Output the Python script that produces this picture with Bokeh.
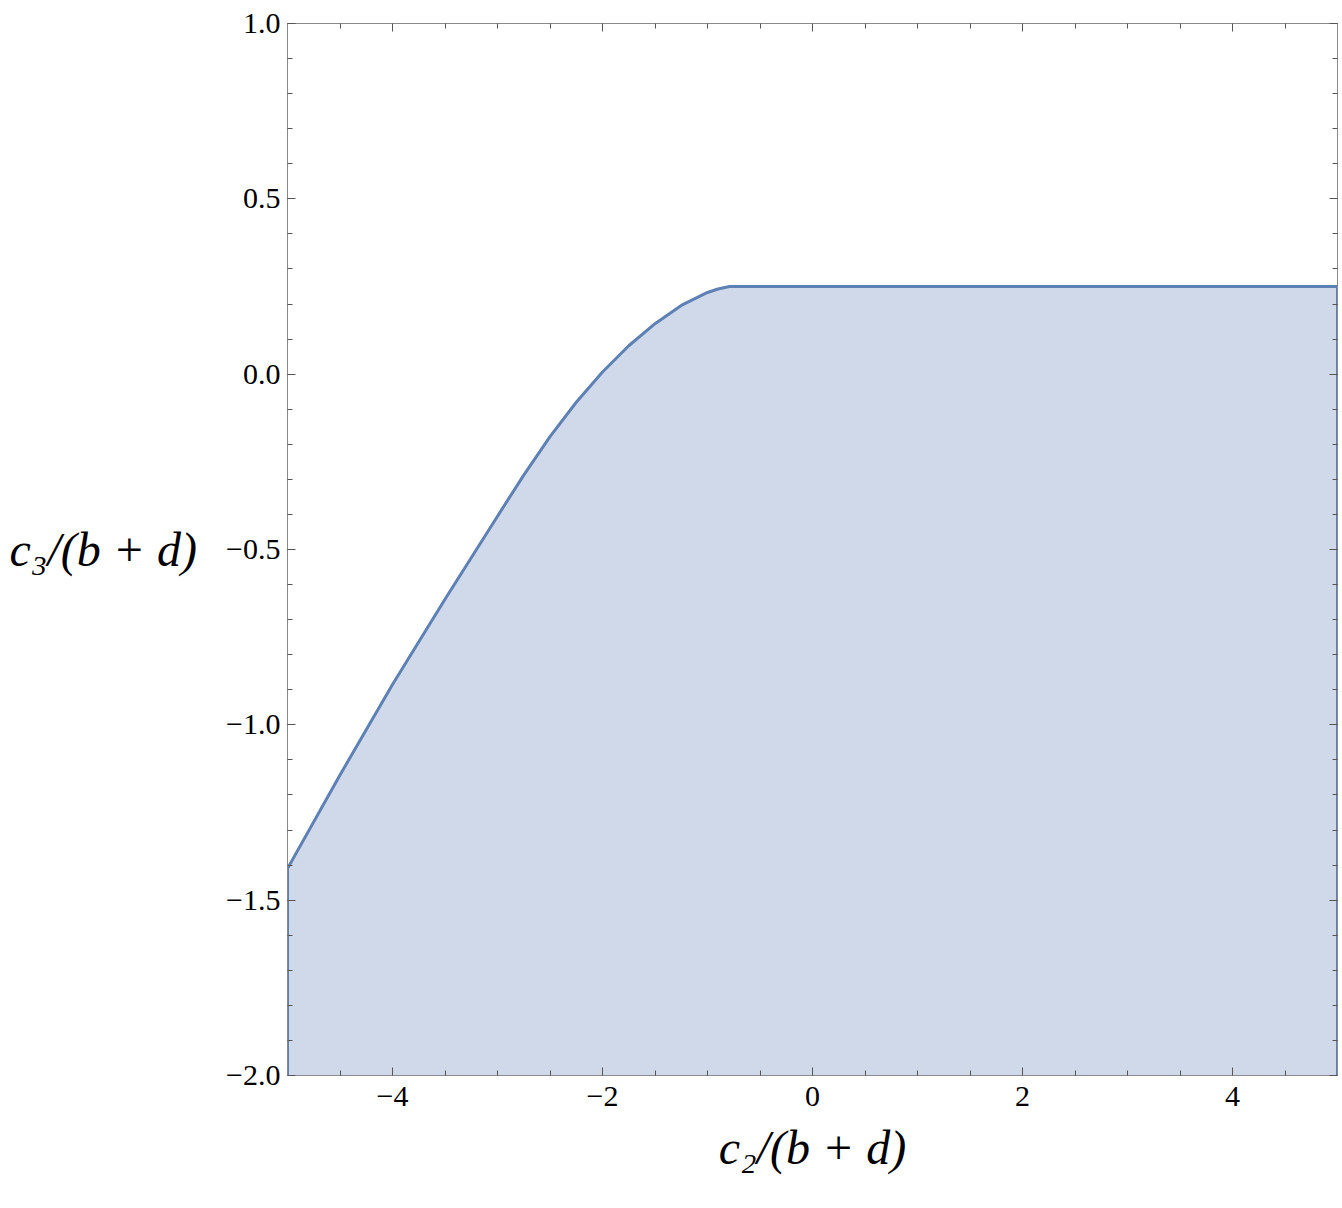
from bokeh.plotting import figure
from bokeh.models import (FixedTicker, LinearAxis, CustomJSTickFormatter, Range1d)
from bokeh.embed import file_html
from bokeh.resources import INLINE

# boundary of the region
c2_vals = [-5.0, -4.5, -4.0, -3.5, -3.0, -2.75, -2.5, -2.25, -2.0, -1.75,
           -1.5, -1.25, -1.0, -0.9, -0.79, 5.0]
c3_vals = [-1.41, -1.143, -0.885, -0.642, -0.405, -0.288, -0.178, -0.08, 0.006, 0.081,
           0.144, 0.196, 0.233, 0.243, 0.25, 0.25]
y_floor = -2.0

x_major = [-4, -2, 0, 2, 4]
x_minor = [-4.5, -3.5, -3.0, -2.5, -1.5, -1.0, -0.5, 0.5, 1.0, 1.5, 2.5, 3.0, 3.5, 4.5]
y_major = [-2.0, -1.5, -1.0, -0.5, 0.0, 0.5, 1.0]
y_minor = [round(-2.0 + 0.1 * i, 1) for i in range(31)]

x_label = "c\u2082/(b + d)"
y_label = "c\u2083/(b + d)"

FONT = "Liberation Serif"
LINE = "#5E81B5"
FILL = "#CFD9E9"
AXIS = "#8a8a8a"
TICK = "#555555"

p = figure(frame_width=1050, frame_height=1052, output_backend="svg",
           toolbar_location=None, x_range=Range1d(-5, 5), y_range=Range1d(-2, 1),
           min_border_left=287, min_border_top=23, min_border_right=2,
           min_border_bottom=110, x_axis_location=None, y_axis_location=None)
p.outline_line_color = None
p.grid.visible = False
p.background_fill_color = "white"
p.border_fill_color = "white"

p.varea(x=c2_vals, y1=[y_floor] * len(c2_vals), y2=c3_vals, fill_color=FILL)
bx = [c2_vals[0]] + c2_vals + [c2_vals[-1]]
by = [y_floor] + c3_vals + [y_floor]
p.line(bx, by, line_color=LINE, line_width=3, line_join="round")

fmt_x = CustomJSTickFormatter(code="""
    if (Math.abs(tick) < 1e-9) return '0';
    return (tick < 0 ? '\u2212' : '') + Math.abs(tick).toFixed(0);
""")
fmt_y = CustomJSTickFormatter(code="""
    if (Math.abs(tick) < 1e-9) return '0.0';
    return (tick < 0 ? '\u2212' : '') + Math.abs(tick).toFixed(1);
""")
blank = CustomJSTickFormatter(code="return '';")


def style(ax, labels=True):
    ax.axis_line_color = AXIS
    ax.axis_line_width = 1
    ax.major_tick_line_color = TICK
    ax.minor_tick_line_color = TICK
    ax.major_tick_in = 8
    ax.major_tick_out = 0
    ax.minor_tick_in = 5
    ax.minor_tick_out = 0
    ax.major_label_text_font = FONT
    ax.major_label_text_font_size = "30px"
    ax.major_label_text_color = "black"
    ax.axis_label_text_font = FONT
    ax.axis_label_text_font_size = "48px"
    ax.axis_label_text_font_style = "italic"
    ax.axis_label_text_color = "black"
    if not labels:
        ax.major_label_standoff = 0


xt = FixedTicker(ticks=x_major, minor_ticks=x_minor)
yt = FixedTicker(ticks=y_major, minor_ticks=y_minor)

bottom = LinearAxis(ticker=xt, formatter=fmt_x, axis_label=x_label)
style(bottom)
bottom.major_label_standoff = 11
bottom.axis_label_standoff = 12
p.add_layout(bottom, "below")

left = LinearAxis(ticker=yt, formatter=fmt_y, axis_label=y_label)
style(left)
left.major_label_standoff = 7
left.axis_label_standoff = 26
left.axis_label_orientation = "horizontal"
p.add_layout(left, "left")

top = LinearAxis(ticker=xt, formatter=blank)
style(top, labels=False)
p.add_layout(top, "above")

right = LinearAxis(ticker=yt, formatter=blank)
style(right, labels=False)
p.add_layout(right, "right")

open("out.html", "w").write(file_html(p, INLINE))
